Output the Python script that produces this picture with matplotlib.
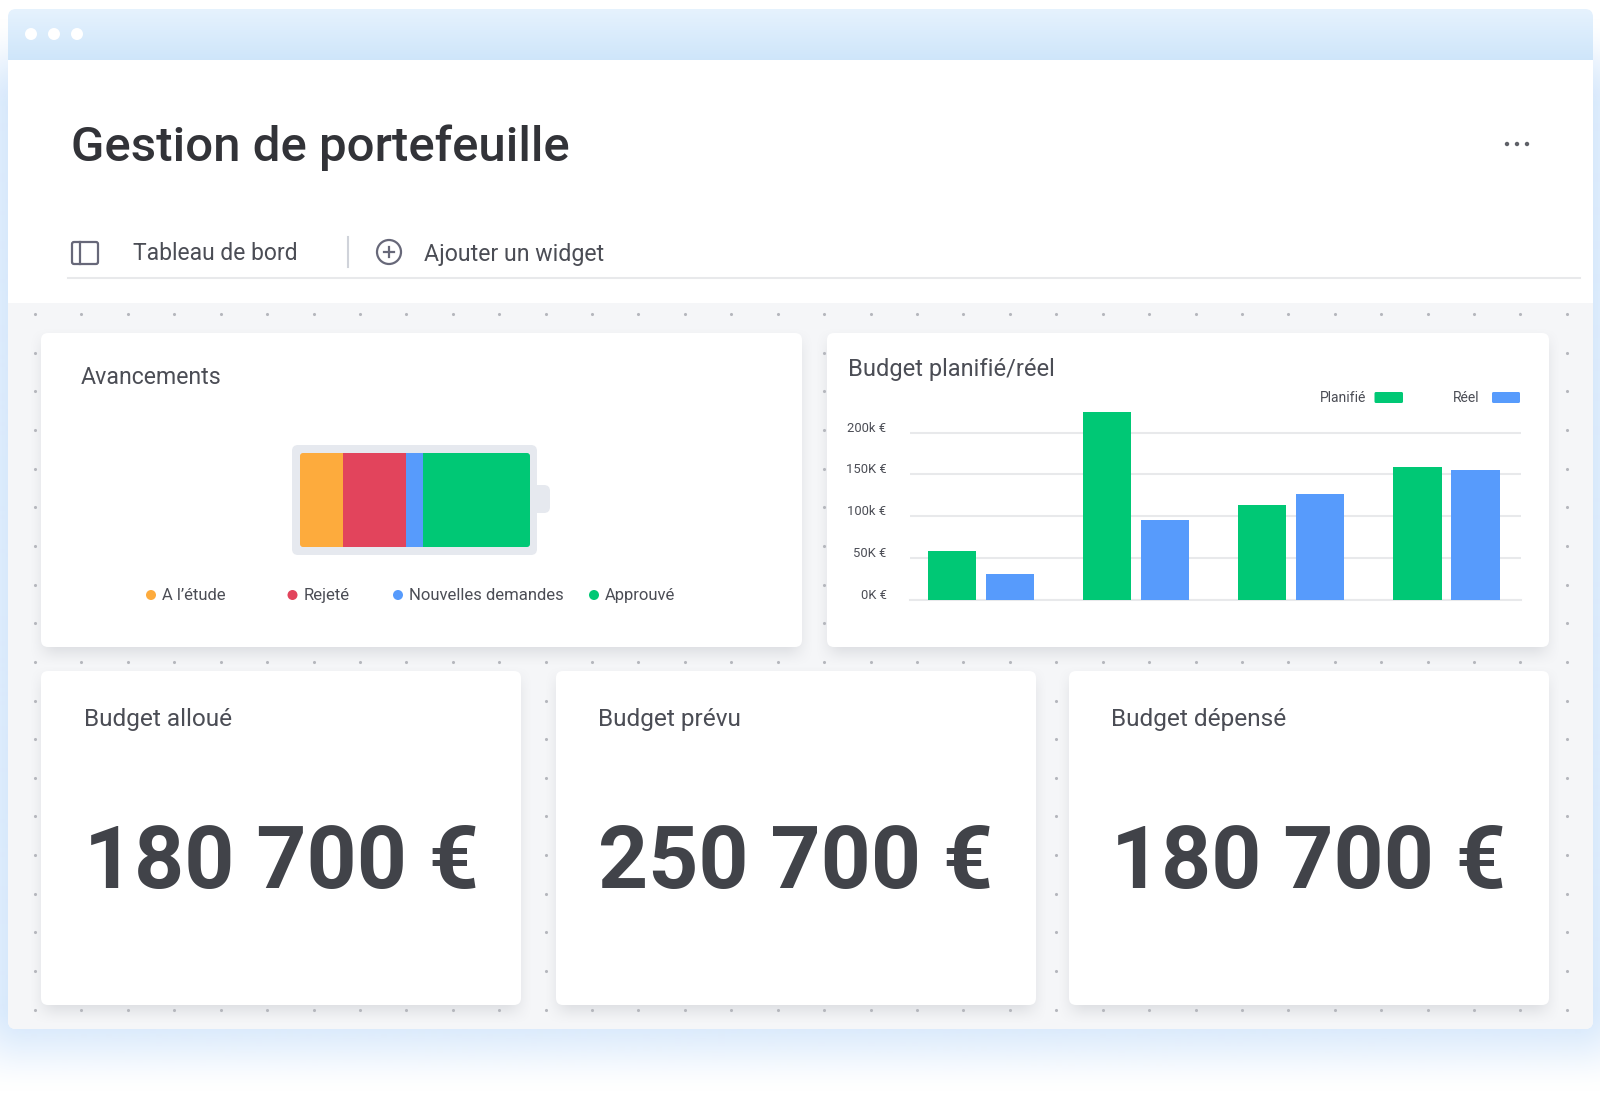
"""Portfolio dashboard mockup: window chrome, battery widget, bar chart, budget cards."""
import numpy as np
import matplotlib
matplotlib.use("Agg")
import matplotlib.pyplot as plt
from matplotlib.patches import Circle, FancyBboxPatch, Rectangle
from matplotlib.transforms import ScaledTranslation

plt.rcParams["font.family"] = ["Roboto", "DejaVu Sans"]

W, H = 1600, 1104

# battery widget
status_labels = ["A l’étude", "Rejeté", "Nouvelles demandes", "Approuvé"]
status_share = [18.7, 27.4, 7.2, 46.7]
status_colors = ["#fdab3d", "#e2445c", "#579bfc", "#00c875"]

# bar chart
planned = [58.6, 224, 113, 159]
actual = [31, 96, 126, 155]
tick_values = [0, 50, 100, 150, 200]
tick_labels = ["0K €", "50K €", "100k €", "150K €", "200k €"]

# bottom cards
card_titles = ["Budget alloué", "Budget prévu", "Budget dépensé"]
card_amounts = ["180 700 €", "250 700 €", "180 700 €"]

DARK = "#323338"
TEXT = "#4b4d55"
GREEN = "#00c875"
BLUE = "#579bfc"
LINE = "#e8e9eb"


def smooth(t):
    t = np.clip(t, 0, 1)
    return t * t * (3 - 2 * t)


def soft_rect(ax, x0, y0, x1, y1, blur, color, alpha, z):
    # blurred rectangle used for the shadows and the blue glow
    xs = np.arange(max(0, x0 - blur), min(W, x1 + blur) + 1)
    ys = np.arange(max(0, y0 - blur), min(H, y1 + blur) + 1)
    fx = smooth((xs - x0 + blur) / (2 * blur)) * smooth((x1 + blur - xs) / (2 * blur))
    fy = smooth((ys - y0 + blur) / (2 * blur)) * smooth((y1 + blur - ys) / (2 * blur))
    img = np.zeros((len(ys), len(xs), 4))
    img[..., :3] = matplotlib.colors.to_rgb(color)
    img[..., 3] = alpha * np.outer(fy, fx)
    ax.imshow(img, extent=(xs[0], xs[-1], ys[-1], ys[0]), aspect="auto", zorder=z,
              interpolation="bilinear")


def round_box(ax, x0, y0, x1, y1, r, color, z, **kw):
    box = FancyBboxPatch((x0 + r, y0 + r), x1 - x0 - 2 * r, y1 - y0 - 2 * r,
                         boxstyle=f"round,pad={r},rounding_size={r}",
                         fc=color, ec="none", zorder=z, **kw)
    ax.add_patch(box)
    return box


def px_axes(fig, x0, y0, x1, y1, **kw):
    # axes placed with pixel coordinates, y measured from the top
    return fig.add_axes([x0 / W, 1 - y1 / H, (x1 - x0) / W, (y1 - y0) / H], **kw)


fig = plt.figure(figsize=(W / 100, H / 100), dpi=100, facecolor="white")
bg = fig.add_axes([0, 0, 1, 1])
bg.axis("off")

# window glow and body
soft_rect(bg, -20, 60, 1620, 1050, 45, "#cfe4fb", 0.9, 1)
round_box(bg, 8, 9, 1593, 1029, 8, "white", 2)
bar_img = np.linspace(0, 1, 52)[:, None, None] * (np.array([0.81, 0.90, 0.98]) - np.array([0.90, 0.95, 0.995])) \
    + np.array([0.90, 0.95, 0.995])
title_bar = bg.imshow(bar_img, extent=(8, 1593, 60, 9), aspect="auto", zorder=3)
title_bar.set_clip_path(FancyBboxPatch((16, 17), 1569, 60, boxstyle="round,pad=8,rounding_size=8",
                                       transform=bg.transData))
for cx in [31, 54, 77]:
    bg.add_patch(Circle((cx, 34), 6, fc="white", ec="none", zorder=4))

# header
bg.text(71, 161, "Gestion de portefeuille", fontsize=35.4, color=DARK, weight="medium",
        va="baseline", zorder=5)
for cx in [1507, 1517, 1527]:
    bg.add_patch(Circle((cx, 144), 2.2, fc="#5f6168", ec="none", zorder=5))

bg.add_patch(FancyBboxPatch((73, 243), 24, 20, boxstyle="round,pad=1,rounding_size=2",
                            fc="none", ec="#676879", lw=1.6, zorder=5))
bg.plot([80, 80], [242, 264], color="#676879", lw=1.6, zorder=5)
bg.text(133, 260.5, "Tableau de bord", fontsize=16.5, color=TEXT, va="baseline", zorder=5)
bg.plot([348, 348], [237, 267], color="#d0d3da", lw=1.5, zorder=5)
bg.add_patch(Circle((389, 252), 12, fc="none", ec="#676879", lw=1.6, zorder=5))
bg.plot([384, 394], [252, 252], color="#676879", lw=1.6, zorder=5)
bg.plot([389, 389], [247, 257], color="#676879", lw=1.6, zorder=5)
bg.text(424, 260.5, "Ajouter un widget", fontsize=16.7, color=TEXT, va="baseline", zorder=5)
bg.plot([68, 1580], [277.5, 277.5], color=LINE, lw=1.5, zorder=5)

# dotted board
board_color = "#f5f6f8"
bg.add_patch(FancyBboxPatch((16, 311), 1569, 710, boxstyle="round,pad=8,rounding_size=8",
                            fc=board_color, ec="none", zorder=5))
bg.add_patch(Rectangle((8, 303), 1585, 100, fc=board_color, ec="none", zorder=5))

cards = [(41, 333, 802, 647), (827, 333, 1549, 647),
         (41, 671, 521, 1005), (556, 671, 1036, 1005), (1069, 671, 1549, 1005)]
for x0, y0, x1, y1 in cards:
    soft_rect(bg, x0 + 2, y0 + 8, x1 - 2, y1 + 6, 15, "#8a8d96", 0.26, 6)
dot_x = 35 + 46.42 * np.arange(34)
dot_y = 314 + 38.65 * np.arange(19)
gx, gy = np.meshgrid(dot_x, dot_y)
bg.scatter(gx.ravel(), gy.ravel(), s=5, color="#b5b7bd", linewidths=0, zorder=7)
for x0, y0, x1, y1 in cards:
    round_box(bg, x0, y0, x1, y1, 7, "white", 8)

bg.set_xlim(0, W)
bg.set_ylim(H, 0)

# battery widget
bg.text(81, 384.5, "Avancements", fontsize=16.7, color=TEXT, va="baseline", zorder=9)
round_box(bg, 527, 485, 550, 513, 6, "#e6e9ef", 9)
round_box(bg, 292, 445, 537, 555, 6, "#e6e9ef", 9)
bat = px_axes(fig, 300, 453, 530, 547)
bat.axis("off")
bat.set_xlim(0, 100)
bat.set_ylim(0, 1)
left = 0
for share, color in zip(status_share, status_colors):
    seg = bat.barh(0.5, share, height=1, left=left, color=color, linewidth=0)[0]
    seg.set_clip_path(FancyBboxPatch((303, 456), 224, 88, boxstyle="round,pad=3,rounding_size=3",
                                     transform=bg.transData))
    left += share

dot_pos = [151, 292.5, 398, 594]
for cx, label, color in zip(dot_pos, status_labels, status_colors):
    bg.add_patch(Circle((cx, 595), 5, fc=color, ec="none", zorder=9))
    bg.text(cx + 11, 600, label, fontsize=12, color=TEXT, va="baseline", zorder=9)

# bar chart
bg.text(848.5, 376, "Budget planifié/réel", fontsize=17, color=TEXT, va="baseline", zorder=9)
bg.text(1320, 402, "Planifié", fontsize=10, color=TEXT, va="baseline", zorder=9)
round_box(bg, 1374.5, 392, 1403, 403, 1.5, GREEN, 9)
bg.text(1453, 402, "Réel", fontsize=10, color=TEXT, va="baseline", zorder=9)
round_box(bg, 1492, 392, 1520, 403, 1.5, BLUE, 9)

ax = px_axes(fig, 910, 399, 1521, 600)
ax.patch.set_alpha(0)
groups = np.arange(len(planned))
ax.bar(groups - 0.187, planned, width=0.31, color=GREEN, zorder=3)
ax.bar(groups + 0.187, actual, width=0.31, color=BLUE, zorder=3)
ax.set_xlim(-0.457, 3.48)
ax.set_ylim(0, 240)
ax.set_yticks(tick_values)
ax.set_yticklabels(tick_labels, fontsize=9.4, color=TEXT)
ax.set_xticks([])
ax.tick_params(axis="y", length=0, pad=17)
ax.grid(axis="y", color=LINE, lw=1.5, zorder=0)
ax.set_axisbelow(True)
for s in ax.spines.values():
    s.set_visible(False)
ax.spines["bottom"].set_visible(True)
ax.spines["bottom"].set_color(LINE)
ax.spines["bottom"].set_linewidth(1.5)
# labels sit a little above their gridlines
shift = ScaledTranslation(0, 6 / 100, fig.dpi_scale_trans)
for lab in ax.get_yticklabels():
    lab.set_transform(lab.get_transform() + shift)

# budget cards
title_x = [84, 598, 1111]
amount_x = [84, 598, 1111]
for tx, num_x, title, amount in zip(title_x, amount_x, card_titles, card_amounts):
    bg.text(tx, 726, title, fontsize=17.6, color=TEXT, va="baseline", zorder=9)
    bg.text(num_x, 888, amount, fontsize=63, color="#414349", weight="bold", va="baseline", zorder=9)

fig.savefig("out.png", dpi=100, facecolor="white")
